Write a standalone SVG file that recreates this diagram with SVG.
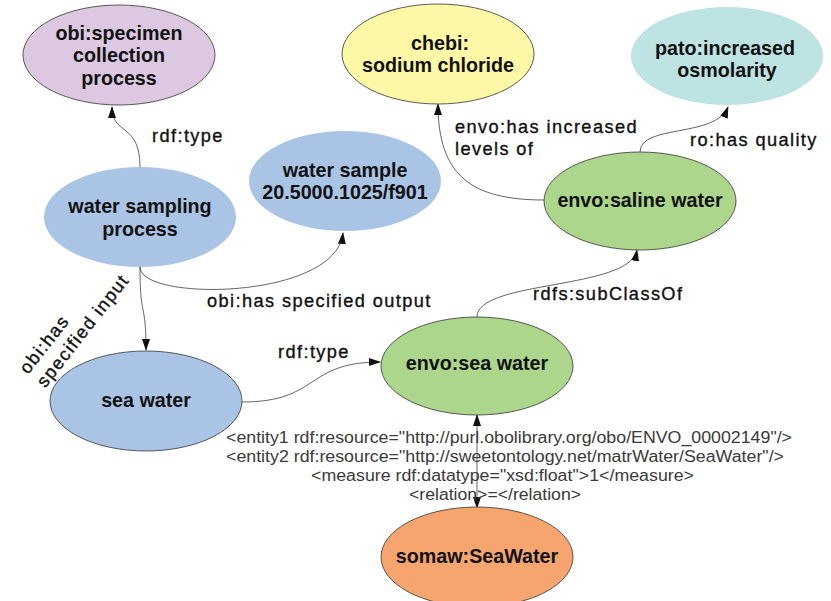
<svg xmlns="http://www.w3.org/2000/svg" width="831" height="601" viewBox="0 0 831 601">
<defs>
<style>
.node ellipse{stroke:#333;stroke-width:0.8}
.nt{font-family:"Liberation Sans",Arial,sans-serif;font-weight:bold;font-size:19.7px;fill:#111;text-anchor:middle}
.edge{fill:none;stroke:#222;stroke-width:0.7;marker-end:url(#arr)}
.el{font-family:"Liberation Sans",Arial,sans-serif;font-size:18.2px;letter-spacing:1.4px;fill:#111;stroke:#111;stroke-width:0.35}
.xml{font-family:"Liberation Sans",Arial,sans-serif;font-size:15.8px;fill:#3a3a3a}
</style>
<marker id="arr" markerUnits="userSpaceOnUse" markerWidth="12" markerHeight="9" refX="11" refY="4" orient="auto-start-reverse" viewBox="0 0 12 8">
<path d="M0,0 L12,4 L0,8 z" fill="#111"/>
</marker>
</defs>
<rect width="831" height="601" fill="#fff"/>
<g id="connectors">
<path class="edge" d="M140,167 C140,122 112,136 112,107"/>
<path class="edge" d="M544,200 C472,200 438,176 438,104"/>
<path class="edge" d="M640,152 C640,124 716,138 728,107"/>
<path class="edge" d="M140,267 C140,302 336,300 343,233"/>
<path class="edge" d="M140,267 C140,320 146,300 146,350"/>
<path class="edge" d="M242,402 C320,402 305,362 380,362"/>
<path class="edge" d="M477,317 C477,280 630,290 637,250"/>
<path class="edge" style="marker-start:url(#arr)" d="M477,415 L477,508"/>
<text class="el" x="152" y="142">rdf:type</text>
<text class="el" x="455" y="133">envo:has increased</text>
<text class="el" x="455" y="155">levels of</text>
<text class="el" x="690" y="146">ro:has quality</text>
<text class="el" x="207" y="307">obi:has specified output</text>
<text class="el" x="533" y="300">rdfs:subClassOf</text>
<text class="el" x="278" y="358">rdf:type</text>
<text class="el" transform="translate(28,375) rotate(-52)"><tspan x="0" y="0">obi:has</tspan><tspan x="0" y="22">specified input</tspan></text>
<text class="xml" x="226" y="443" textLength="566" lengthAdjust="spacingAndGlyphs">&lt;entity1 rdf:resource="http://purl.obolibrary.org/obo/ENVO_00002149"/&gt;</text>
<text class="xml" x="226" y="462" textLength="558" lengthAdjust="spacingAndGlyphs">&lt;entity2 rdf:resource="http://sweetontology.net/matrWater/SeaWater"/&gt;</text>
<text class="xml" x="311" y="481" textLength="383" lengthAdjust="spacingAndGlyphs">&lt;measure rdf:datatype="xsd:float"&gt;1&lt;/measure&gt;</text>
<text class="xml" x="409" y="500" textLength="172" lengthAdjust="spacingAndGlyphs">&lt;relation&gt;=&lt;/relation&gt;</text>
</g>
<g id="n_specimen" class="node">
<ellipse cx="119" cy="55" rx="96" ry="50" fill="#dcc8e1"/>
<text class="nt" x="119" y="39.5">obi:specimen</text>
<text class="nt" x="119" y="62">collection</text>
<text class="nt" x="119" y="84.5">process</text>
</g>
<g id="n_chebi" class="node">
<ellipse cx="438" cy="54" rx="96" ry="50" fill="#fdf8a6"/>
<text class="nt" x="440" y="50">chebi:</text>
<text class="nt" x="438" y="72">sodium chloride</text>
</g>
<g id="n_pato" class="node">
<ellipse cx="727" cy="56" rx="96" ry="49" fill="#bde3e3" style="stroke:none"/>
<text class="nt" x="725" y="55">pato:increased</text>
<text class="nt" x="727" y="77">osmolarity</text>
</g>
<g id="n_sampling" class="node">
<ellipse cx="140" cy="217" rx="96" ry="50" fill="#aac4e6" style="stroke:none"/>
<text class="nt" x="140" y="213">water sampling</text>
<text class="nt" x="140" y="235.5">process</text>
</g>
<g id="n_sample" class="node">
<ellipse cx="345" cy="181" rx="96" ry="50" fill="#aac4e6" style="stroke:none"/>
<text class="nt" x="345" y="177">water sample</text>
<text class="nt" x="345" y="199">20.5000.1025/f901</text>
</g>
<g id="n_saline" class="node">
<ellipse cx="640" cy="201" rx="96" ry="49" fill="#acd68c"/>
<text class="nt" x="640" y="207">envo:saline water</text>
</g>
<g id="n_envo_sea" class="node">
<ellipse cx="477" cy="366" rx="96" ry="49" fill="#acd68c"/>
<text class="nt" x="477" y="370">envo:sea water</text>
</g>
<g id="n_sea" class="node">
<ellipse cx="146" cy="401" rx="96" ry="50" fill="#aac4e6"/>
<text class="nt" x="146" y="407">sea water</text>
</g>
<g id="n_somaw" class="node">
<ellipse cx="477" cy="557" rx="96" ry="50" fill="#f6a56f"/>
<text class="nt" x="477" y="563">somaw:SeaWater</text>
</g>
</svg>
